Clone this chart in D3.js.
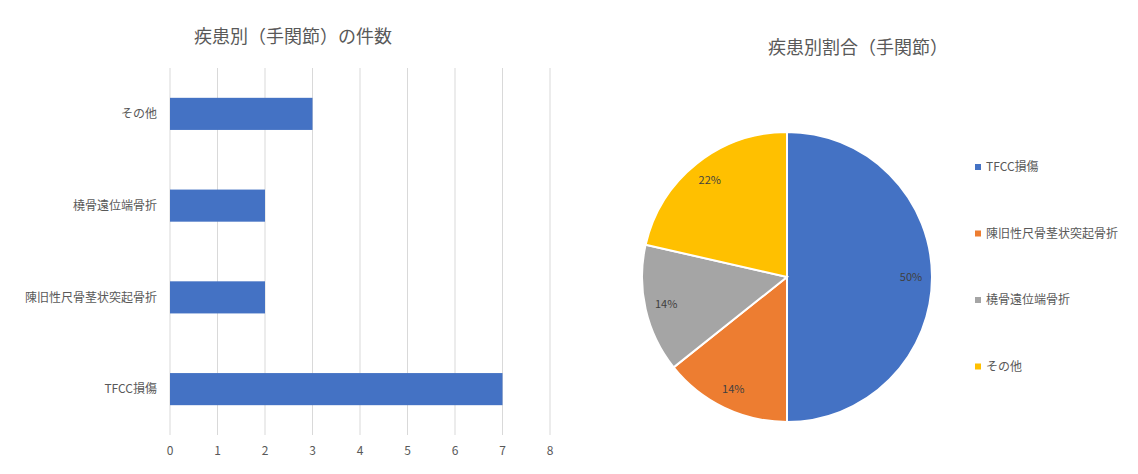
<!DOCTYPE html>
<html lang="ja">
<head>
<meta charset="UTF-8">
<script src="https://cdn.jsdelivr.net/npm/d3@7"></script>
<title>疾患別（手関節）</title>
<style>
    body { margin: 0; background: #fff; }
    svg text { font-family: "Noto Sans CJK JP", "Noto Sans", sans-serif; fill: #595959; }
    .grid line { stroke: #d9d9d9; }
</style>
</head>
<body>
<svg id="chart" width="1138" height="474"></svg>
<script>
    // データ
    var categories = ["TFCC損傷", "陳旧性尺骨茎状突起骨折", "橈骨遠位端骨折", "その他"];
    var counts = [7, 2, 2, 3];
    var pctLabels = ["50%", "14%", "14%", "22%"];
    var xTicks = [0, 1, 2, 3, 4, 5, 6, 7, 8];
    var colors = ["#4472C4", "#ED7D31", "#A5A5A5", "#FFC000"];

    var svg = d3.select("#chart");

    // ---- 棒グラフ ----
    var x = d3.scaleLinear().domain([0, 8]).range([170, 550]);
    // 上から「その他」、下が「TFCC損傷」
    var y = d3.scaleBand()
              .domain(categories.slice().reverse())
              .range([68, 435])
              .paddingInner(0.65)
              .paddingOuter(0.325);

    svg.append("text")
       .attr("x", 293).attr("y", 43)
       .attr("text-anchor", "middle")
       .style("font-size", "18px")
       .text("疾患別（手関節）の件数");

    svg.append("g").attr("class", "grid")
       .selectAll("line").data(xTicks).enter().append("line")
       .attr("x1", d => x(d)).attr("x2", d => x(d))
       .attr("y1", 68).attr("y2", 435);

    svg.append("g").selectAll("rect").data(categories).enter().append("rect")
       .attr("x", x(0))
       .attr("y", d => y(d))
       .attr("width", (d, i) => x(counts[i]) - x(0))
       .attr("height", y.bandwidth())
       .attr("fill", "#4472C4");

    svg.append("g").selectAll("text").data(categories).enter().append("text")
       .attr("x", 157)
       .attr("y", d => y(d) + y.bandwidth() / 2)
       .attr("dy", "0.35em")
       .attr("text-anchor", "end")
       .style("font-size", "12px")
       .text(d => d);

    svg.append("g").selectAll("text").data(xTicks).enter().append("text")
       .attr("x", d => x(d))
       .attr("y", 455)
       .attr("text-anchor", "middle")
       .style("font-size", "12px")
       .text(d => d);

    // ---- 円グラフ ----
    var cx = 787, cy = 277, r = 145;

    svg.append("text")
       .attr("x", 858).attr("y", 54)
       .attr("text-anchor", "middle")
       .style("font-size", "18px")
       .text("疾患別割合（手関節）");

    var pie = d3.pie().sort(null).value(d => d);
    var arcs = pie(counts);
    var arc = d3.arc().innerRadius(0).outerRadius(r);
    var labelArc = d3.arc().innerRadius(r * 0.855).outerRadius(r * 0.855);

    var pg = svg.append("g").attr("transform", "translate(" + cx + "," + cy + ")");
    pg.selectAll("path").data(arcs).enter().append("path")
      .attr("d", arc)
      .attr("fill", (d, i) => colors[i])
      .attr("stroke", "#fff")
      .attr("stroke-width", 2);

    pg.selectAll("text").data(arcs).enter().append("text")
      .attr("transform", d => "translate(" + labelArc.centroid(d) + ")")
      .attr("text-anchor", "middle")
      .attr("dy", "0.35em")
      .style("font-size", "11px")
      .style("fill", "#404040")
      .text((d, i) => pctLabels[i]);

    // 凡例
    var legend = svg.append("g").selectAll("g").data(categories).enter().append("g")
       .attr("transform", (d, i) => "translate(975," + (167 + i * 66.5) + ")");
    legend.append("rect")
       .attr("x", 0).attr("y", -3)
       .attr("width", 6).attr("height", 6)
       .attr("fill", (d, i) => colors[i]);
    legend.append("text")
       .attr("x", 11).attr("dy", "0.35em")
       .style("font-size", "12px")
       .text(d => d);
</script>
</body>
</html>
